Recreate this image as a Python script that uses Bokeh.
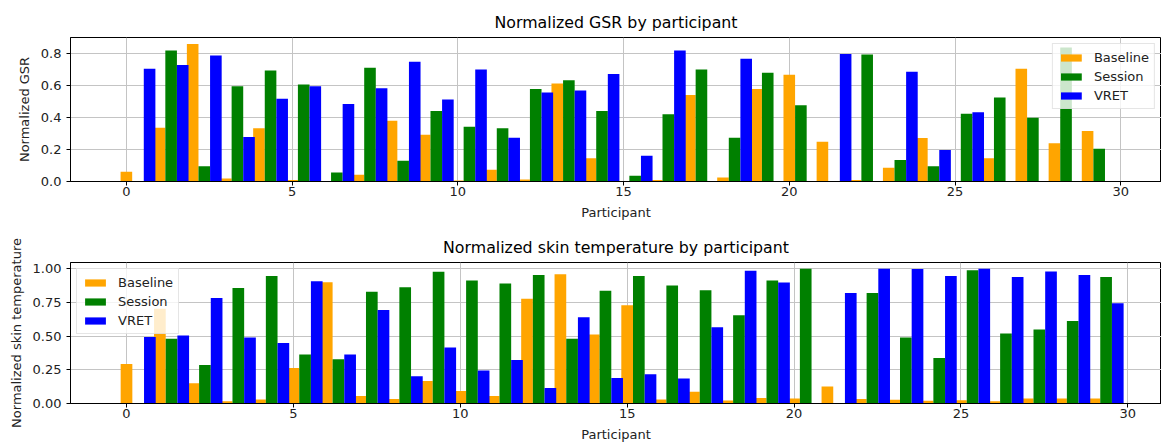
from bokeh.plotting import figure
from bokeh.layouts import column
from bokeh.models import Range1d, FixedTicker, Legend, LegendItem, PrintfTickFormatter
from bokeh.embed import file_html
from bokeh.resources import INLINE

# ---------------- data ----------------
participants = list(range(30))
series_names = ["Baseline", "Session", "VRET"]
series_colors = ["#ffa500", "#008000", "#0000ff"]

gsr_baseline = [0.061, 0.337, 0.861, 0.019, 0.333, 0.010, 0.0, 0.042, 0.381, 0.293,
                0.006, 0.073, 0.013, 0.614, 0.145, 0.0, 0.010, 0.542, 0.025, 0.580,
                0.668, 0.249, 0.010, 0.086, 0.272, 0.0, 0.145, 0.706, 0.239, 0.316]
gsr_session = [0.0, 0.821, 0.096, 0.597, 0.695, 0.607, 0.057, 0.712, 0.130, 0.442,
               0.343, 0.333, 0.580, 0.635, 0.442, 0.036, 0.421, 0.702, 0.274, 0.681,
               0.477, 0.0, 0.796, 0.134, 0.096, 0.425, 0.526, 0.400, 0.840, 0.205]
gsr_vret = [0.706, 0.729, 0.790, 0.279, 0.519, 0.597, 0.486, 0.584, 0.750, 0.513,
            0.702, 0.274, 0.557, 0.570, 0.674, 0.161, 0.821, 0.0, 0.769, 0.0,
            0.0, 0.798, 0.0, 0.687, 0.197, 0.434, 0.0, 0.0, 0.0, 0.0]

skin_baseline = [0.293, 0.702, 0.151, 0.017, 0.029, 0.263, 0.900, 0.056, 0.034, 0.166,
                 0.093, 0.056, 0.778, 0.959, 0.512, 0.729, 0.029, 0.088, 0.022, 0.041,
                 0.037, 0.127, 0.034, 0.027, 0.020, 0.024, 0.017, 0.037, 0.037, 0.037]
skin_session = [0.0, 0.480, 0.285, 0.856, 0.946, 0.363, 0.329, 0.829, 0.863, 0.978,
                0.912, 0.890, 0.954, 0.480, 0.837, 0.946, 0.876, 0.841, 0.654, 0.912,
                1.0, 0.0, 0.820, 0.490, 0.337, 0.988, 0.520, 0.549, 0.612, 0.939]
skin_vret = [0.493, 0.505, 0.783, 0.490, 0.449, 0.907, 0.363, 0.693, 0.202, 0.415,
             0.244, 0.322, 0.115, 0.639, 0.190, 0.217, 0.185, 0.566, 0.985, 0.898,
             0.0, 0.820, 1.0, 0.998, 0.946, 1.0, 0.939, 0.980, 0.954, 0.744]

x_ticks = [0, 5, 10, 15, 20, 25, 30]
gsr_ticks = [0.0, 0.2, 0.4, 0.6, 0.8]
skin_ticks = [0.0, 0.25, 0.5, 0.75, 1.0]

BAR_W = 0.35
FONT = "DejaVu Sans"


def make_fig(title, ylabel, series, xr, ytop, yticks, yfmt, width, height,
             b_left, b_top, b_bottom, legend_loc):
    p = figure(width=width, height=height, output_backend="svg", toolbar_location=None,
               x_range=Range1d(*xr), y_range=Range1d(0, ytop),
               min_border_left=b_left, min_border_right=0,
               min_border_top=b_top, min_border_bottom=b_bottom,
               background_fill_color="white", border_fill_color="white")
    p.title.text = title
    p.title.align = "center"
    p.title.text_font = FONT
    p.title.text_font_size = "15.8px"
    p.title.text_font_style = "normal"
    p.title.text_color = "black"
    p.title.standoff = 11

    p.outline_line_color = "black"
    p.outline_line_width = 1
    p.outline_line_alpha = 1

    for ax in (p.xaxis[0], p.yaxis[0]):
        ax.axis_line_color = "black"
        ax.major_tick_line_color = "black"
        ax.major_tick_out = 4
        ax.major_tick_in = 0
        ax.minor_tick_line_color = None
        ax.major_label_text_font = FONT
        ax.major_label_text_font_size = "13px"
        ax.major_label_text_color = "#222222"
        ax.axis_label_text_font = FONT
        ax.axis_label_text_font_size = "13px"
        ax.axis_label_text_font_style = "normal"
        ax.axis_label_text_color = "#222222"

    p.xaxis.ticker = FixedTicker(ticks=x_ticks)
    p.xaxis.axis_label = "Participant"
    p.xaxis.major_label_standoff = 1
    p.xaxis.axis_label_standoff = 6
    p.yaxis.ticker = FixedTicker(ticks=yticks)
    p.yaxis.formatter = PrintfTickFormatter(format=yfmt)
    p.yaxis.axis_label = ylabel
    p.yaxis.major_label_standoff = 5
    p.yaxis.axis_label_standoff = 6

    p.grid.grid_line_color = "#c4c4c4"
    p.grid.grid_line_width = 1

    items = []
    for k, (name, vals, color) in enumerate(zip(series_names, series, series_colors)):
        xs = [i + k * BAR_W for i in participants]
        r = p.vbar(x=xs, top=vals, bottom=0, width=BAR_W,
                   fill_color=color, line_color=None)
        items.append(LegendItem(label=name, renderers=[r]))

    legend = Legend(items=items, location=legend_loc, margin=6, padding=5,
                    spacing=3, label_height=16, glyph_height=9, glyph_width=26,
                    label_standoff=10, label_text_font=FONT,
                    label_text_font_size="13px", label_text_color="#222222",
                    border_line_color="#cccccc", border_line_width=1,
                    background_fill_color="white", background_fill_alpha=0.8)
    p.add_layout(legend, "center")
    return p


top = make_fig("Normalized GSR by participant", "Normalized GSR",
               [gsr_baseline, gsr_session, gsr_vret],
               (-1.686, 31.23), 0.902, gsr_ticks, "%.1f",
               1161, 230, 62, 37, 49, "top_right")

bottom = make_fig("Normalized skin temperature by participant", "Normalized skin temperature",
                  [skin_baseline, skin_session, skin_vret],
                  (-1.678, 31.01), 1.046, skin_ticks, "%.2f",
                  1161, 214, 70, 32, 39, "top_left")

layout = column(top, bottom, spacing=0)

open("out.html", "w").write(file_html(layout, INLINE))
